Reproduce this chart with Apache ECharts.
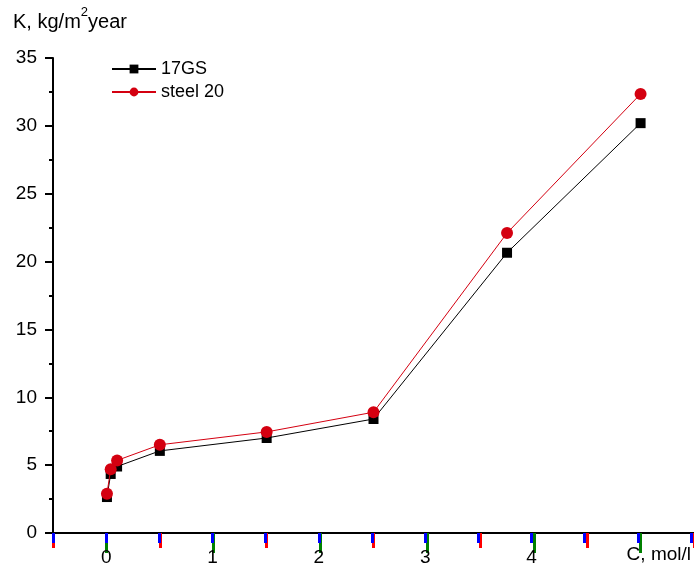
<!DOCTYPE html>
<html><head><meta charset="utf-8">
<script src="https://cdn.jsdelivr.net/npm/echarts@6/dist/echarts.min.js"></script>
<style>html,body{margin:0;padding:0;background:#fff}#c{width:694px;height:567px}</style>
</head><body><div id="c"></div>
<script>
const concentrations = [0.005, 0.04, 0.1, 0.5, 1.5, 2.5, 3.75, 5.0];
const k17GS = [2.65, 4.35, 4.9, 6.05, 7.0, 8.4, 20.65, 30.2];
const kSteel20 = [2.9, 4.7, 5.35, 6.5, 7.45, 8.9, 22.1, 32.35];
const xTickLabels = [0, 1, 2, 3, 4];
const seriesNames = ['17GS', 'steel 20'];

const font = 'Liberation Sans, Arial, sans-serif';
const pair = (xs, ys) => xs.map((x, i) => [x, ys[i]]);
const gridBox = {left: 53, right: 0, top: 58, bottom: 34};
const chart = echarts.init(document.getElementById('c'));
chart.setOption({
  backgroundColor: '#ffffff',
  animation: false,
  grid: [Object.assign({}, gridBox), Object.assign({}, gridBox)],
  legend: {
    left: 106, top: 55, orient: 'vertical', itemWidth: 44, itemHeight: 11, itemGap: 5,
    textStyle: {fontFamily: font, fontSize: 18, color: '#000'},
    data: seriesNames
  },
  xAxis: [{
    gridIndex: 0, type: 'value', min: -0.5, max: 5.5, interval: 1,
    splitLine: {show: false},
    axisLine: {show: true, onZero: false, lineStyle: {color: '#000', width: 2}},
    axisTick: {show: true, length: 15, lineStyle: {color: 'red', width: 3}},
    minorTick: {show: true, splitNumber: 2, length: 20, lineStyle: {color: 'green', width: 3}},
    axisLabel: {show: false}
  }, {
    gridIndex: 1, type: 'value', min: -0.5, max: 5.5, interval: 0.5,
    splitLine: {show: false},
    axisLine: {show: false, onZero: false},
    axisTick: {show: true, length: 10, lineStyle: {color: 'blue', width: 3}},
    axisLabel: {
      show: true, color: '#000', fontFamily: font, fontSize: 19, margin: 15,
      formatter: v => (xTickLabels.indexOf(v) >= 0 ? String(v) : '')
    }
  }],
  yAxis: [{
    gridIndex: 0, type: 'value', min: 0, max: 35, interval: 5,
    splitLine: {show: false},
    axisLine: {show: true, onZero: false, lineStyle: {color: '#000', width: 2}},
    axisTick: {show: true, length: 8, lineStyle: {color: '#000', width: 2}},
    minorTick: {show: true, splitNumber: 2, length: 4, lineStyle: {color: '#000', width: 2}},
    axisLabel: {color: '#000', fontFamily: font, fontSize: 19, margin: 16}
  }, {
    gridIndex: 1, type: 'value', min: 0, max: 35, show: false
  }],
  graphic: [
    {type: 'text', left: 13, top: 6, style: {
      text: '{a|K, kg/m}{s|2}{a|year}',
      rich: {a: {fontFamily: font, fontSize: 20, fill: '#000', verticalAlign: 'bottom', lineHeight: 26},
             s: {fontFamily: font, fontSize: 13, fill: '#000', verticalAlign: 'top', lineHeight: 26, padding: [0, 0, 10, 0]}}
    }},
    {type: 'text', right: 3, top: 545, style: {text: 'C, mol/l', fontFamily: font, fontSize: 19, fill: '#000'}}
  ],
  series: [{
    name: seriesNames[0], type: 'line', xAxisIndex: 0, yAxisIndex: 0, data: pair(concentrations, k17GS),
    symbol: 'rect', symbolSize: 10,
    lineStyle: {color: '#000', width: 1}, itemStyle: {color: '#000'}, z: 2
  }, {
    name: seriesNames[1], type: 'line', xAxisIndex: 0, yAxisIndex: 0, data: pair(concentrations, kSteel20),
    symbol: 'circle', symbolSize: 12,
    lineStyle: {color: '#d40010', width: 1}, itemStyle: {color: '#d40010'}, z: 3
  }]
});
</script></body></html>
